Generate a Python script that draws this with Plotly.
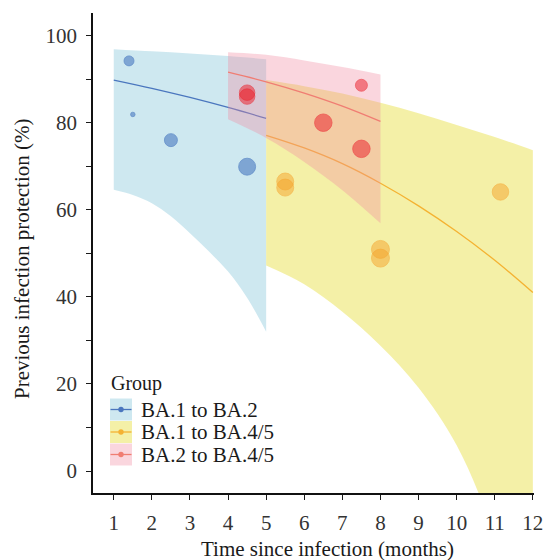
import plotly.graph_objects as go

# ---------------- data ----------------
groups = ["BA.1 to BA.2", "BA.1 to BA.4/5", "BA.2 to BA.4/5"]

# observed points (time in months, protection %, weight)
blue_x = [1.4, 1.5, 2.5, 4.5]
blue_y = [94.2, 81.9, 76.0, 69.9]
blue_w = [10, 4.5, 13, 17]

yellow_x = [5.5, 5.5, 8.0, 8.0, 11.15]
yellow_y = [66.5, 65.1, 50.9, 48.9, 64.1]
yellow_w = [17, 17, 18, 18, 16.5]

red_x = [4.5, 4.5, 6.5, 7.5, 7.5]
red_y = [86.9, 86.0, 80.0, 74.0, 88.6]
red_w = [15.5, 15.5, 17.5, 17.5, 12]

# fitted curves and confidence ribbons
blue_fx = [1, 2, 3, 4, 5]
blue_fit = [89.8, 87.9, 85.8, 83.5, 81.0]
blue_hi = [96.9, 96.4, 95.9, 95.3, 94.6]
blue_lx = [1, 1.5, 2, 2.5, 3, 3.5, 4, 4.5, 5]
blue_lo = [64.6, 63.4, 61.5, 58.5, 54.6, 50.4, 45.8, 39.8, 32.0]

yellow_fx = [5, 6, 7, 8, 9, 10, 11, 12]
yellow_fit = [77.1, 74.2, 70.6, 66.1, 60.9, 55.0, 48.4, 41.0]
yellow_hi = [89.8, 88.4, 86.7, 84.6, 82.2, 79.5, 76.7, 73.7]
yellow_lo = [47.2, 42.9, 36.6, 28.8, 19.1, 5.9, -15.0, -45.0]

red_fx = [4, 5, 6, 7, 8]
red_fit = [91.6, 89.4, 86.8, 83.8, 80.3]
red_hi = [96.2, 95.6, 94.3, 92.8, 91.1]
red_lo = [80.8, 76.5, 71.0, 64.5, 56.9]

x_ticks = list(range(1, 13))
y_ticks = list(range(0, 101, 10))
y_ticktext = [str(v) if v % 20 == 0 else "" for v in y_ticks]

# ---------------- styles ----------------
FONT = "Liberation Serif"
TXT = "#1a1a1a"
TICK_TXT = "#333333"
ribbon_col = {
    "blue": "rgba(173,216,230,0.6)",
    "yellow": "rgba(235,228,95,0.55)",
    "red": "rgba(241,138,161,0.35)",
}
line_col = {"blue": "rgb(74,118,190)", "yellow": "rgb(244,178,50)", "red": "rgb(240,125,115)"}
pt_col = {"blue": "rgba(55,105,185,0.75)", "yellow": "rgba(245,163,45,0.72)", "red": "rgba(235,35,45,0.75)"}

fig = go.Figure()


def add_group(key, fx, fit, hi, lx, lo):
    fig.add_trace(go.Scatter(x=fx, y=hi, mode="lines", line=dict(width=0, shape="spline"),
                             showlegend=False, hoverinfo="skip"))
    fig.add_trace(go.Scatter(x=lx, y=lo, mode="lines", line=dict(width=0, shape="spline"),
                             fill="tonexty", fillcolor=ribbon_col[key], showlegend=False, hoverinfo="skip"))
    fig.add_trace(go.Scatter(x=fx, y=fit, mode="lines", line=dict(width=1.3, color=line_col[key], shape="spline"),
                             showlegend=False, hoverinfo="skip"))


add_group("blue", blue_fx, blue_fit, blue_hi, blue_lx, blue_lo)
add_group("yellow", yellow_fx, yellow_fit, yellow_hi, yellow_fx, yellow_lo)
add_group("red", red_fx, red_fit, red_hi, red_fx, red_lo)

for key, xs, ys, ws in [("blue", blue_x, blue_y, blue_w),
                        ("yellow", yellow_x, yellow_y, yellow_w),
                        ("red", red_x, red_y, red_w)]:
    fig.add_trace(go.Scatter(x=xs, y=ys, mode="markers",
                             marker=dict(size=ws, color=pt_col[key],
                                         line=dict(width=1, color=pt_col[key])),
                             showlegend=False))

# ---------------- layout (page has an 8px body offset) ----------------
OFF = 8
W, H = 552 - 2 * OFF, 560 - OFF
PL, PR, PT, PB = 93, 534, 13, 493          # plot area in page pixels
L, R, T, B = PL - OFF, OFF + W - PR, PT - OFF, OFF + H - PB
pw, ph = PR - PL, PB - PT


def px(xp):
    return (xp - PL) / pw


def py(yp):
    return (PB - yp) / ph


shapes = []
annotations = []
annotations.append(dict(x=px(109), y=py(383), xref="paper", yref="paper", text="Group",
                        showarrow=False, xanchor="left", yanchor="middle",
                        font=dict(family=FONT, size=20, color=TXT)))
key_tops = [398.5, 421, 443.5]
for i, key in enumerate(["blue", "yellow", "red"]):
    y0 = key_tops[i]
    y1 = y0 + 22
    yc = (y0 + y1) / 2
    shapes.append(dict(type="rect", xref="paper", yref="paper", x0=px(110), x1=px(132),
                       y0=py(y1), y1=py(y0), fillcolor=ribbon_col[key], line=dict(width=0)))
    shapes.append(dict(type="line", xref="paper", yref="paper", x0=px(110.5), x1=px(131.5),
                       y0=py(yc), y1=py(yc), line=dict(color=line_col[key], width=1.3)))
    shapes.append(dict(type="circle", xref="paper", yref="paper", x0=px(118.3), x1=px(123.7),
                       y0=py(yc + 2.7), y1=py(yc - 2.7), fillcolor=line_col[key],
                       line=dict(width=0)))
    annotations.append(dict(x=px(139), y=py(yc), xref="paper", yref="paper", text=groups[i],
                            showarrow=False, xanchor="left", yanchor="middle",
                            font=dict(family=FONT, size=21, color=TXT)))

# axis titles
annotations.append(dict(x=px(327), y=py(549), xref="paper", yref="paper",
                        text="Time since infection (months)", showarrow=False,
                        xanchor="center", yanchor="middle",
                        font=dict(family=FONT, size=21, color=TXT)))
annotations.append(dict(x=px(22), y=py(259), xref="paper", yref="paper",
                        text="Previous infection protection (%)", showarrow=False, textangle=-90,
                        xanchor="center", yanchor="middle",
                        font=dict(family=FONT, size=21, color=TXT)))

fig.update_layout(
    width=W, height=H, autosize=False,
    margin=dict(l=L, r=R, t=T, b=B, pad=0, autoexpand=False),
    plot_bgcolor="white", paper_bgcolor="white",
    showlegend=False,
    shapes=shapes, annotations=annotations,
    font=dict(family=FONT, size=21, color=TXT),
)
fig.update_xaxes(range=[0.455, 12.03], tickvals=x_ticks, ticks="outside", ticklen=5, tickwidth=1,
                 tickcolor=TXT, showline=True, linecolor="#111", linewidth=1.5, showgrid=False,
                 zeroline=False, ticklabelstandoff=5, ticklabeloverflow="allow", automargin=False,
                 tickfont=dict(family=FONT, size=21, color=TICK_TXT))
fig.update_yaxes(range=[-5.05, 105.2], tickvals=y_ticks, ticktext=y_ticktext, ticks="outside",
                 ticklen=5, tickwidth=1, tickcolor=TXT, showline=True, linecolor="#111",
                 linewidth=1.5, showgrid=False, zeroline=False, ticklabelstandoff=5, automargin=False,
                 tickfont=dict(family=FONT, size=21, color=TICK_TXT))

fig.write_html("out.html")
